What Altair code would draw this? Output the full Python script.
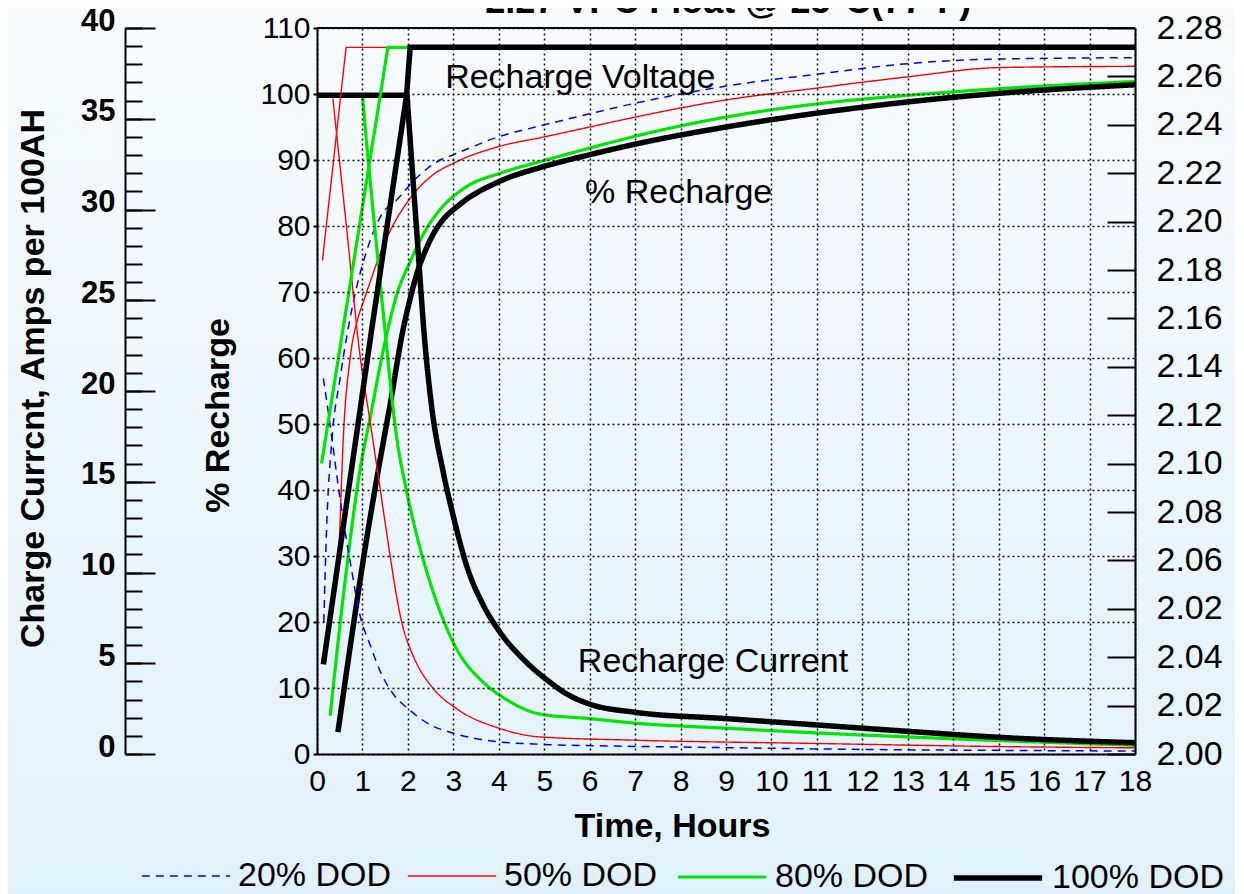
import altair as alt
import pandas as pd

FONT = "Liberation Sans"

# ---------------- data ----------------
series_names = ["20% DOD", "50% DOD", "80% DOD", "100% DOD"]
series_colors = ["#0000ff", "#ff0000", "#00e600", "#000000"]
series_widths = [1.5, 1.4, 3.2, 5.5]
series_dash = [[8, 6], [1, 0], [1, 0], [1, 0]]

# % recharge (left inner axis, 0-110)
pct20_h = [0.15, 0.21, 0.32, 0.51, 0.6, 0.8, 1.13, 1.42, 1.79, 2.12, 2.71, 3.0, 4.03, 4.93, 6.0, 7.0, 9.0, 11.0, 13.0, 15.0, 18.0]
pct20_v = [20.0, 34.0, 47.0, 57.0, 61.0, 68.5, 77.0, 81.7, 84.2, 86.8, 90.0, 90.8, 93.6, 95.2, 97.0, 98.6, 101.2, 103.0, 104.6, 105.3, 105.5]
pct50_h = [0.49, 0.58, 0.73, 0.9, 1.02, 1.53, 2.05, 2.56, 3.0, 4.03, 4.93, 6.0, 7.0, 9.0, 11.0, 13.0, 15.0, 18.0]
pct50_v = [31.6, 48.0, 60.0, 66.0, 68.5, 78.1, 84.2, 87.8, 89.5, 92.1, 93.4, 95.0, 96.5, 99.1, 100.9, 102.6, 104.0, 104.2]
pct80_h = [0.29, 0.58, 0.95, 1.2, 1.35, 1.5, 1.75, 2.05, 2.4, 2.71, 3.3, 4.03, 4.93, 6.0, 7.0, 9.0, 11.0, 13.0, 15.0, 18.0]
pct80_v = [5.8, 24.0, 43.2, 52.0, 57.5, 62.5, 69.5, 74.6, 79.5, 82.5, 86.0, 88.0, 89.8, 91.8, 93.6, 96.5, 98.5, 99.8, 100.8, 101.9]
pct100_h = [0.46, 0.8, 1.02, 1.31, 1.61, 1.9, 2.05, 2.19, 2.4, 2.56, 2.71, 3.15, 4.03, 4.93, 6.0, 7.0, 9.0, 11.0, 13.0, 15.0, 18.0]
pct100_v = [3.3, 19.5, 29.5, 41.5, 53.0, 64.5, 69.0, 72.6, 76.5, 78.8, 80.4, 83.3, 86.8, 88.9, 90.8, 92.4, 95.0, 97.1, 98.8, 100.1, 101.4]

# charge current (far left axis, 0-40 A per 100AH)
cur20_h = [0.14, 0.29, 0.51, 0.73, 0.95, 1.17, 1.4, 1.65, 2.05, 2.5, 2.93, 4.03, 5.0, 7.0, 9.0, 11.0, 13.0, 15.0, 18.0]
cur20_v = [20.7, 18.1, 14.0, 10.6, 7.6, 6.0, 4.5, 3.4, 2.4, 1.6, 1.2, 0.66, 0.53, 0.42, 0.35, 0.28, 0.23, 0.2, 0.16]
cur50_h = [0.35, 0.65, 0.95, 1.17, 1.39, 1.61, 1.75, 1.9, 2.05, 2.19, 2.56, 3.07, 4.03, 4.91, 7.0, 11.0, 15.0, 18.0]
cur50_v = [36.1, 29.0, 21.9, 18.3, 14.6, 10.9, 8.7, 6.9, 5.8, 5.0, 3.6, 2.5, 1.4, 0.94, 0.76, 0.58, 0.41, 0.34]
cur80_h = [0.0, 1.0, 1.02, 1.31, 1.47, 1.75, 1.97, 2.2, 2.56, 3.07, 3.66, 4.17, 4.91, 6.0, 7.0, 9.0, 11.0, 13.0, 15.0, 18.0]
cur80_v = [36.3, 36.3, 35.7, 28.0, 24.0, 17.5, 14.5, 12.0, 8.9, 5.8, 3.95, 3.0, 2.2, 1.95, 1.7, 1.42, 1.16, 0.94, 0.74, 0.48]
cur100_h = [0.0, 1.98, 2.0, 2.2, 2.38, 2.52, 2.78, 3.0, 3.29, 3.66, 4.03, 4.61, 5.13, 5.5, 6.0, 7.0, 9.0, 11.0, 13.0, 15.0, 18.0]
cur100_v = [36.3, 36.3, 35.6, 28.6, 22.5, 19.2, 15.5, 13.1, 10.4, 8.2, 6.7, 5.05, 3.95, 3.3, 2.75, 2.3, 1.95, 1.6, 1.25, 0.92, 0.62]

# recharge voltage (right axis, volts per cell)
volt50_h = [0.12, 0.64, 18.0]
volt50_v = [2.184, 2.272, 2.272]
volt80_h = [0.10, 1.56, 18.0]
volt80_v = [2.100, 2.272, 2.272]
volt100_h = [0.14, 1.20, 1.97, 2.05, 18.0]
volt100_v = [2.017, 2.155, 2.252, 2.272, 2.272]

volt_ticks = [1.98 + 0.02 * k for k in range(16)]
volt_labels = ["2.00", "2.02", "2.04", "2.02", "2.06", "2.08", "2.10", "2.12",
               "2.14", "2.16", "2.18", "2.20", "2.22", "2.24", "2.26", "2.28"]

ann_text = ["Recharge Voltage", "% Recharge", "Recharge Current"]
ann_hour = [2.82, 5.90, 5.74]
ann_pct = [102.4, 85.0, 14.0]

title_text = "2.27 VPC Float @ 25°C(77°F)"

# ---------------- build tables ----------------
def table(parts):
    rows = []
    for name, hs, vs in parts:
        for h, v in zip(hs, vs):
            rows.append({"series": name, "hour": h, "value": v})
    return pd.DataFrame(rows)

pct_df = table([("20% DOD", pct20_h, pct20_v), ("50% DOD", pct50_h, pct50_v),
                ("80% DOD", pct80_h, pct80_v), ("100% DOD", pct100_h, pct100_v)])
cur_df = table([("20% DOD", cur20_h, cur20_v), ("50% DOD", cur50_h, cur50_v),
                ("80% DOD", cur80_h, cur80_v), ("100% DOD", cur100_h, cur100_v)])
volt_df = table([("50% DOD", volt50_h, volt50_v), ("80% DOD", volt80_h, volt80_v),
                 ("100% DOD", volt100_h, volt100_v)])
ann_df = pd.DataFrame({"hour": ann_hour, "pct": ann_pct, "text": ann_text})

W, H = 818, 726
PAD = {"left": 309, "top": 20, "right": 100, "bottom": 140}

legend = alt.Legend(orient="none", legendX=-176, legendY=803, direction="horizontal",
                    title=None, symbolType="stroke", symbolSize=7800, gridAlign="none",
                    labelFontSize=34, labelFont=FONT, labelColor="black",
                    labelOffset=7, columnPadding=13, labelLimit=400, padding=0)

color_enc = alt.Color("series:N", sort=series_names,
                      scale=alt.Scale(domain=series_names, range=series_colors), legend=legend)
dash_enc = alt.StrokeDash("series:N", sort=series_names,
                          scale=alt.Scale(domain=series_names, range=series_dash), legend=legend)
width_enc = alt.StrokeWidth("series:N", sort=series_names,
                            scale=alt.Scale(type="ordinal", domain=series_names, range=series_widths),
                            legend=legend)

grid_style = dict(gridDash=[2, 3], gridColor="#111111", gridWidth=1.5)

x_enc = alt.X("hour:Q", scale=alt.Scale(domain=[0, 18], nice=False, zero=False),
              axis=alt.Axis(values=list(range(19)), grid=True, ticks=False, tickSize=0,
                            labelPadding=12, labelFontSize=30, labelFont=FONT, labelColor="black",
                            labelFlush=False, labelOverlap=False,
                            domainColor="black", domainWidth=2,
                            title="Time, Hours", titleFontSize=34, titleFont=FONT,
                            titleFontWeight="bold", titleColor="black",
                            titleX=355, titleY=82, titleAlign="center", titleBaseline="alphabetic",
                            zindex=1, **grid_style))

# background gradient
bg = alt.Chart(pd.DataFrame({"a": [0]})).mark_rect(
    color=alt.LinearGradient(gradient="linear",
                             stops=[alt.GradientStop(color="#f8fbfe", offset=0),
                                    alt.GradientStop(color="#e1f1fc", offset=1)],
                             x1=0, x2=0, y1=0, y2=1)
).encode(x=alt.value(-PAD["left"]), x2=alt.value(W + PAD["right"]),
         y=alt.value(-PAD["top"]), y2=alt.value(H + PAD["bottom"]))

pct_layer = alt.Chart(pct_df).mark_line(interpolate="monotone").encode(
    x=x_enc,
    y=alt.Y("value:Q", scale=alt.Scale(domain=[0, 110], nice=False, zero=False),
            axis=alt.Axis(values=list(range(0, 111, 10)), grid=True, tickSize=4, tickColor="black",
                          tickWidth=2, labelPadding=3, labelFontSize=30, labelFont=FONT,
                          labelColor="black", labelFlush=False, labelOverlap=False,
                          domainColor="black", domainWidth=2,
                          title="% Recharge", titleFontSize=34, titleFont=FONT,
                          titleFontWeight="bold", titleColor="black", titleAngle=270,
                          titleX=-89, titleY=387, titleAlign="center", titleBaseline="alphabetic",
                          zindex=1, **grid_style)),
    color=color_enc, strokeDash=dash_enc, strokeWidth=width_enc,
)

cur_layer = alt.Chart(cur_df).mark_line(interpolate="monotone").encode(
    x=x_enc,
    y=alt.Y("value:Q", scale=alt.Scale(domain=[0, 40], nice=False, zero=False),
            axis=alt.Axis(orient="right", offset=-(W + 192), values=list(range(0, 41, 5)),
                          grid=False, tickSize=30, tickWidth=2, tickColor="black",
                          labelAlign="right", labelPadding=-40, labelOffset=-7,
                          labelBaseline="middle", labelFontSize=31, labelFontWeight="bold",
                          labelFont=FONT, labelColor="black", labelFlush=False, labelOverlap=False,
                          domainColor="black", domainWidth=2,
                          title="Charge Currcnt, Amps per 100AH", titleFontSize=34, titleFont=FONT,
                          titleFontWeight="bold", titleColor="black", titleAngle=270,
                          titleX=-82, titleY=350, titleAlign="center", titleBaseline="alphabetic",
                          zindex=1)),
    color=color_enc, strokeDash=dash_enc, strokeWidth=width_enc,
)

cur_minor = alt.Chart(cur_df).mark_line(strokeOpacity=0).encode(
    x=x_enc,
    y=alt.Y("value:Q", scale=alt.Scale(domain=[0, 40], nice=False, zero=False),
            axis=alt.Axis(orient="right", offset=-(W + 192), values=list(range(0, 41)),
                          grid=False, tickSize=17, tickWidth=2, tickColor="black",
                          labels=False, domain=False, title=None, zindex=1)),
)

label_expr = "[" + ",".join("'%s'" % s for s in volt_labels) + "][round((datum.value - 1.98) / 0.02)]"
volt_layer = alt.Chart(volt_df).mark_line().encode(
    x=x_enc,
    y=alt.Y("value:Q", scale=alt.Scale(domain=[1.98, 2.28], nice=False, zero=False),
            axis=alt.Axis(orient="left", offset=-W, values=volt_ticks, labelExpr=label_expr,
                          grid=False, tickSize=28, tickWidth=2, tickColor="black",
                          labelAlign="left", labelPadding=-49, labelBaseline="middle",
                          labelFontSize=34, labelFont=FONT, labelColor="black",
                          labelFlush=False, labelOverlap=False,
                          domainColor="black", domainWidth=2, title=None, zindex=1)),
    color=color_enc, strokeDash=dash_enc, strokeWidth=width_enc,
)

ann_layer = alt.Chart(ann_df).mark_text(align="left", baseline="middle", fontSize=34,
                                        font=FONT, color="black").encode(
    x=x_enc,
    y=alt.Y("pct:Q", scale=alt.Scale(domain=[0, 110], nice=False, zero=False), axis=None),
    text="text:N",
)

title_layer = alt.Chart(pd.DataFrame({"hour": [9.05], "pct": [112.3], "text": [title_text]})).mark_text(
    align="center", baseline="alphabetic", fontSize=36, fontWeight="bold", font=FONT, color="black"
).encode(
    x=x_enc,
    y=alt.Y("pct:Q", scale=alt.Scale(domain=[0, 110], nice=False, zero=False), axis=None),
    text="text:N",
)

top_border = alt.Chart(pd.DataFrame({"pct": [110]})).mark_rule(color="black", strokeWidth=2).encode(
    y=alt.Y("pct:Q", scale=alt.Scale(domain=[0, 110], nice=False, zero=False), axis=None),
)

chart = alt.layer(bg, pct_layer, cur_layer, cur_minor, volt_layer, ann_layer, title_layer, top_border).resolve_scale(
    y="independent"
).properties(
    width=W, height=H, padding=PAD,
    autosize=alt.AutoSizeParams(type="none"),
).configure(font=FONT).configure_view(stroke=None)

chart.save("out.html", embed_options={"renderer": "svg", "actions": False})
